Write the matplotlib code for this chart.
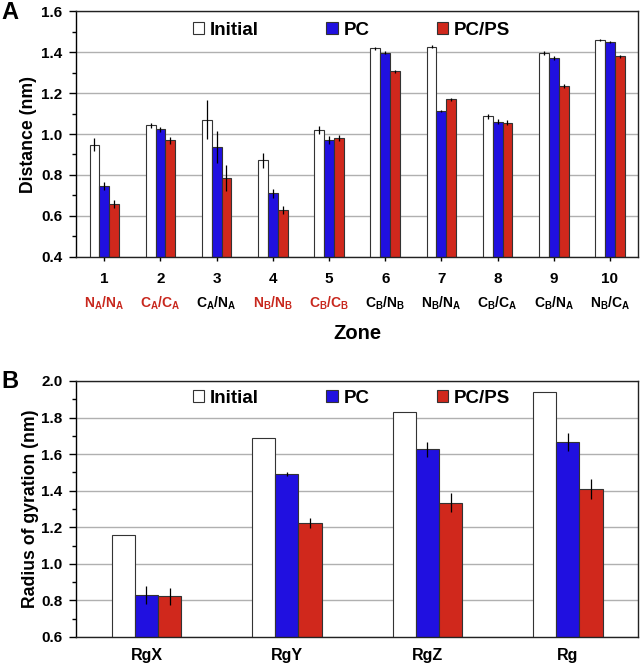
import numpy as np
import matplotlib.pyplot as plt
from matplotlib.ticker import MultipleLocator

plt.rcParams['font.family'] = 'Liberation Sans'
plt.rcParams['font.weight'] = 'bold'
plt.rcParams['mathtext.fontset'] = 'custom'
plt.rcParams['mathtext.rm'] = 'Liberation Sans:bold'
plt.rcParams['mathtext.bf'] = 'Liberation Sans:bold'
plt.rcParams['mathtext.it'] = 'Liberation Sans:bold'

# Panel A data
zones = ['1', '2', '3', '4', '5', '6', '7', '8', '9', '10']
pair_labels = [r'$\mathrm{N_A/N_A}$', r'$\mathrm{C_A/C_A}$', r'$\mathrm{C_A/N_A}$',
               r'$\mathrm{N_B/N_B}$', r'$\mathrm{C_B/C_B}$', r'$\mathrm{C_B/N_B}$',
               r'$\mathrm{N_B/N_A}$', r'$\mathrm{C_B/C_A}$', r'$\mathrm{C_B/N_A}$',
               r'$\mathrm{N_B/C_A}$']
pair_red = [True, True, False, True, True, False, False, False, False, False]
dist_initial = [0.948, 1.042, 1.07, 0.871, 1.02, 1.418, 1.426, 1.086, 1.394, 1.457]
dist_initial_err = [0.031, 0.012, 0.096, 0.035, 0.02, 0.008, 0.008, 0.014, 0.01, 0.005]
dist_pc = [0.746, 1.023, 0.937, 0.712, 0.971, 1.397, 1.112, 1.06, 1.371, 1.449]
dist_pc_err = [0.021, 0.012, 0.079, 0.022, 0.018, 0.008, 0.006, 0.012, 0.01, 0.005]
dist_pcps = [0.659, 0.969, 0.784, 0.629, 0.98, 1.306, 1.169, 1.055, 1.236, 1.379]
dist_pcps_err = [0.02, 0.016, 0.063, 0.018, 0.016, 0.008, 0.006, 0.012, 0.01, 0.007]

# Panel B data
rg_labels = ['RgX', 'RgY', 'RgZ', 'Rg']
rg_initial = [1.16, 1.69, 1.828, 1.938]
rg_pc = [0.828, 1.491, 1.626, 1.668]
rg_pc_err = [0.05, 0.01, 0.043, 0.05]
rg_pcps = [0.823, 1.222, 1.334, 1.409]
rg_pcps_err = [0.047, 0.027, 0.052, 0.057]

blue = '#2010e0'
red = '#d0281c'
edge = '#333333'
red_txt = '#c8281e'

fig = plt.figure(figsize=(6.4, 6.67), dpi=100)
axA = fig.add_axes([0.119, 0.6147, 0.878, 0.3688])
axB = fig.add_axes([0.119, 0.045, 0.878, 0.3838])


def style_axis(ax):
    ax.yaxis.grid(True, color='#b0b0b0', linewidth=1.0)
    ax.set_axisbelow(True)
    for s in ax.spines.values():
        s.set_color('#222222')
        s.set_linewidth(1.0)
    ax.spines['left'].set_color('black')
    ax.tick_params(axis='y', which='major', length=5, width=1, labelsize=11, pad=5, direction='out')
    ax.tick_params(axis='y', which='minor', length=3, width=1, direction='out')
    for lab in ax.get_yticklabels():
        lab.set_fontweight('bold')


def add_legend(ax, y):
    ax.legend(loc='center', ncol=3, frameon=False,
              prop={'weight': 'bold', 'size': 13.5}, handlelength=0.6, handleheight=0.6,
              columnspacing=3.6, handletextpad=0.3, bbox_to_anchor=(0.49, y))


ekw = dict(elinewidth=0.9, ecolor='black', capsize=0)

# ---- Panel A ----
x = np.arange(1, 11)
w = 0.175
axA.bar(x - w, dist_initial, w, yerr=dist_initial_err, color='white', edgecolor=edge,
        linewidth=0.8, error_kw=ekw, label='Initial')
axA.bar(x, dist_pc, w, yerr=dist_pc_err, color=blue, edgecolor=edge,
        linewidth=0.8, error_kw=ekw, label='PC')
axA.bar(x + w, dist_pcps, w, yerr=dist_pcps_err, color=red, edgecolor=edge,
        linewidth=0.8, error_kw=ekw, label='PC/PS')
axA.set_xlim(0.5, 10.5)
axA.set_ylim(0.4, 1.6)
axA.yaxis.set_minor_locator(MultipleLocator(0.1))
axA.set_yticks(np.arange(0.4, 1.61, 0.2))
axA.set_yticklabels([f'{v:.1f}' for v in np.arange(0.4, 1.61, 0.2)])
axA.set_xticks(x)
axA.set_xticklabels(zones, fontsize=11, fontweight='bold')
style_axis(axA)
axA.tick_params(axis='x', which='major', length=3, width=1, pad=8, direction='out')
for xi, lab, isred in zip(x, pair_labels, pair_red):
    axA.text(xi, -0.187, lab, transform=axA.get_xaxis_transform(), ha='center', va='center',
             fontsize=10, color=red_txt if isred else 'black')
axA.set_xlabel('Zone', fontsize=14.5, fontweight='bold', va='center')
axA.xaxis.set_label_coords(0.5, -0.309)
axA.set_ylabel('Distance (nm)', fontsize=12.7, fontweight='bold')
axA.yaxis.set_label_coords(-0.070, 0.5)
add_legend(axA, 0.922)
fig.text(0.002, 0.999, 'A', fontsize=17, fontweight='bold', va='top', ha='left')

# ---- Panel B ----
xb = np.arange(1, 5)
wb = 0.165
axB.bar(xb - wb, rg_initial, wb, color='white', edgecolor=edge, linewidth=0.8, label='Initial')
axB.bar(xb, rg_pc, wb, yerr=rg_pc_err, color=blue, edgecolor=edge, linewidth=0.8,
        error_kw=ekw, label='PC')
axB.bar(xb + wb, rg_pcps, wb, yerr=rg_pcps_err, color=red, edgecolor=edge, linewidth=0.8,
        error_kw=ekw, label='PC/PS')
axB.set_xlim(0.5, 4.5)
axB.set_ylim(0.6, 2.0)
axB.yaxis.set_minor_locator(MultipleLocator(0.1))
axB.set_yticks(np.arange(0.6, 2.01, 0.2))
axB.set_yticklabels([f'{v:.1f}' for v in np.arange(0.6, 2.01, 0.2)])
axB.set_xticks(xb)
axB.set_xticklabels(rg_labels, fontsize=11.5, fontweight='bold')
style_axis(axB)
axB.tick_params(axis='x', which='major', length=0, pad=8)
axB.set_ylabel('Radius of gyration (nm)', fontsize=12.7, fontweight='bold')
axB.yaxis.set_label_coords(-0.067, 0.5)
add_legend(axB, 0.932)
fig.text(0.002, 0.446, 'B', fontsize=17, fontweight='bold', va='top', ha='left')

fig.savefig('out.png', dpi=100)
